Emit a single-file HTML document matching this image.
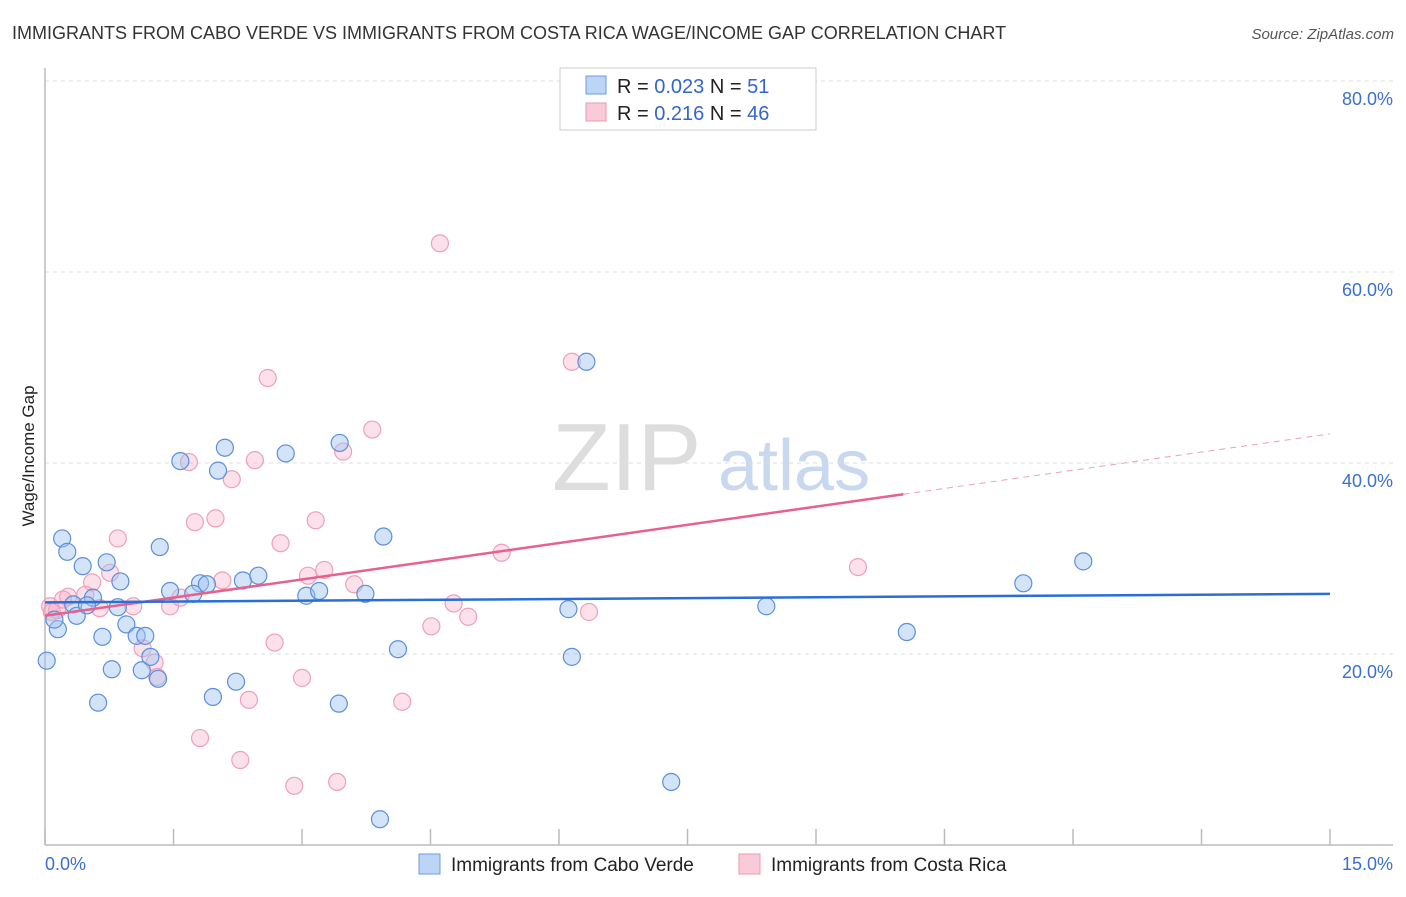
<!DOCTYPE html>
<html><head><meta charset="utf-8"><style>
body{margin:0;background:#fff;font-family:"Liberation Sans",sans-serif;}
svg text{font-family:"Liberation Sans",sans-serif;}
</style></head><body>
<svg id="chart" width="1406" height="892" viewBox="0 0 1406 892">
<text x="12" y="39" font-size="18" fill="#333">IMMIGRANTS FROM CABO VERDE VS IMMIGRANTS FROM COSTA RICA WAGE/INCOME GAP CORRELATION CHART</text>
<text x="1394" y="39" font-size="15" fill="#555" font-style="italic" text-anchor="end">Source: ZipAtlas.com</text>
<text x="552" y="490" font-size="96" fill="#ddd" font-family="Liberation Serif, serif">ZIP</text>
<text x="718" y="490" font-size="72" fill="#c8d8ef">atlas</text>
<g id="grid"></g>
<g id="axes"></g>
<g id="marks"></g>
<text transform="translate(34,456) rotate(-90)" font-size="17" fill="#222" text-anchor="middle">Wage/Income Gap</text>
<g>
<rect x="560" y="68" width="256" height="62" fill="#fff" stroke="#ccc"/>
<rect x="586" y="76" width="20" height="18" fill="#bcd4f5" stroke="#6a9be0"/>
<rect x="586" y="103" width="20" height="18" fill="#f9cad7" stroke="#ec9ab3"/>
<text x="617" y="93" font-size="20" fill="#222">R = <tspan fill="#3366cc">0.023</tspan>   N = <tspan fill="#3366cc"> 51</tspan></text>
<text x="617" y="120" font-size="20" fill="#222">R = <tspan fill="#3366cc"> 0.216</tspan>   N = <tspan fill="#3366cc">46</tspan></text>
</g>
<g>
<rect x="419" y="854" width="21" height="20" fill="#bcd4f5" stroke="#6a9be0"/>
<text x="451" y="871" font-size="19" fill="#222">Immigrants from Cabo Verde</text>
<rect x="739" y="854" width="21" height="20" fill="#f9cad7" stroke="#ec9ab3"/>
<text x="771" y="871" font-size="19" fill="#222">Immigrants from Costa Rica</text>
</g>
</svg>
<script>
const blueX=[0.02,0.20,0.26,0.44,0.15,0.11,0.33,0.37,0.56,0.49,0.72,0.88,0.85,0.67,0.78,0.62,0.95,1.07,1.17,1.13,1.23,1.32,1.34,1.46,1.58,1.81,1.89,1.73,2.02,2.10,1.96,2.23,2.31,2.49,2.81,3.05,3.20,3.44,3.74,3.95,4.12,3.43,3.91,6.32,6.11,6.15,7.31,8.42,10.06,11.42,12.12];
const blueY=[19.3,32.1,30.7,29.2,22.6,23.6,25.2,24.0,25.9,25.1,29.6,27.6,24.9,21.8,18.4,14.9,23.1,21.9,21.9,18.3,19.7,17.4,31.2,26.6,40.2,27.4,27.3,26.3,39.2,41.6,15.5,17.1,27.7,28.2,41.0,26.1,26.6,42.1,26.3,32.3,20.5,14.8,2.7,50.6,24.7,19.7,6.6,25.0,22.3,27.4,29.7];
const pinkX=[0.06,0.14,0.27,0.47,0.55,0.64,0.76,0.85,1.03,1.14,1.28,1.31,1.46,1.58,1.68,1.75,1.81,1.99,2.07,2.18,2.28,2.38,2.45,2.60,2.68,2.75,2.91,3.00,3.07,3.16,3.26,3.41,3.48,3.61,3.82,4.17,4.51,4.61,4.77,4.94,5.33,6.15,6.35,9.49,0.21,0.08];
const pinkY=[25.0,24.6,26.0,26.2,27.5,24.8,28.5,32.1,25.0,20.6,19.1,17.6,25.0,25.9,40.1,33.8,11.2,34.2,27.7,38.3,8.9,15.2,40.3,48.9,21.2,31.6,6.2,17.5,28.2,34.0,28.8,6.6,41.2,27.3,43.5,15.0,22.9,63.0,25.3,23.9,30.6,50.6,24.4,29.1,25.7,24.4];
const blueTrend=[25.4,26.3];
const pinkTrend=[24.0,43.05];
const pinkSolidEnd=10.02;
const yTicks=[20,40,60,80];
const yTickLabels=["20.0%","40.0%","60.0%","80.0%"];
const xTicks=[0,1.5,3,4.5,6,7.5,9,10.5,12,13.5,15];
const xMin=0,xMax=15,yMin=0,yMax=80;
const X=v=>45+(v-xMin)/(xMax-xMin)*1285;
const Y=v=>845-(v-yMin)/(yMax-yMin)*764;
const NS="http://www.w3.org/2000/svg";
function mk(tag,attrs,parent){const e=document.createElementNS(NS,tag);for(const k in attrs)e.setAttribute(k,attrs[k]);document.getElementById(parent).appendChild(e);return e;}
yTicks.forEach((t,i)=>{
 const l=mk('line',{x1:45,x2:1393,y1:Y(t),y2:Y(t),stroke:'#ddd','stroke-dasharray':'4,4'},'grid');
 
 
 const tx=mk('text',{x:1393,y:Y(t)+24,'font-size':18,fill:'#3a6fd0','text-anchor':'end'},'grid');
 tx.textContent=yTickLabels[i];
 
 
});
const ax=mk('line',{x1:45,x2:45,y1:68,y2:845,stroke:'#bbb','stroke-width':1.5},'axes');


const bx=mk('line',{x1:45,x2:1393,y1:845,y2:845,stroke:'#bbb','stroke-width':1.5},'axes');


xTicks.forEach(t=>{
 const l=mk('line',{x1:X(t),x2:X(t),y1:829,y2:845,stroke:'#bbb','stroke-width':1.5},'axes');
 
 
});
const xl0=mk('text',{x:45,y:870,'font-size':18,fill:'#3a6fd0'},'axes');xl0.textContent=xTicks[0].toFixed(1)+"%";


const xl1=mk('text',{x:1393,y:870,'font-size':18,fill:'#3a6fd0','text-anchor':'end'},'axes');xl1.textContent=xTicks[xTicks.length-1].toFixed(1)+"%";


pinkX.forEach((x,i)=>{
 const c=mk('circle',{cx:X(x),cy:Y(pinkY[i]),r:8.5,fill:'rgba(246,170,195,0.35)',stroke:'#eea0b8','stroke-width':1.2},'marks');
 
 
});
blueX.forEach((x,i)=>{
 const c=mk('circle',{cx:X(x),cy:Y(blueY[i]),r:8.5,fill:'rgba(160,195,240,0.45)',stroke:'#5b8fdc','stroke-width':1.2},'marks');
 
 
});
const pAt=x=>pinkTrend[0]+(pinkTrend[1]-pinkTrend[0])*(x-xMin)/(xMax-xMin);
const pl=mk('line',{x1:X(xMin),y1:Y(pinkTrend[0]),x2:X(pinkSolidEnd),y2:Y(pAt(pinkSolidEnd)),stroke:'#e8608e','stroke-width':2.5},'marks');


const pd=mk('line',{x1:X(pinkSolidEnd),y1:Y(pAt(pinkSolidEnd)),x2:X(xMax),y2:Y(pinkTrend[1]),stroke:'#e8a0b8','stroke-width':1,'stroke-dasharray':'6,5'},'marks');


const bl=mk('line',{x1:X(xMin),y1:Y(blueTrend[0]),x2:X(xMax),y2:Y(blueTrend[1]),stroke:'#2a6fd6','stroke-width':2.5},'marks');


</script>
</body></html>
